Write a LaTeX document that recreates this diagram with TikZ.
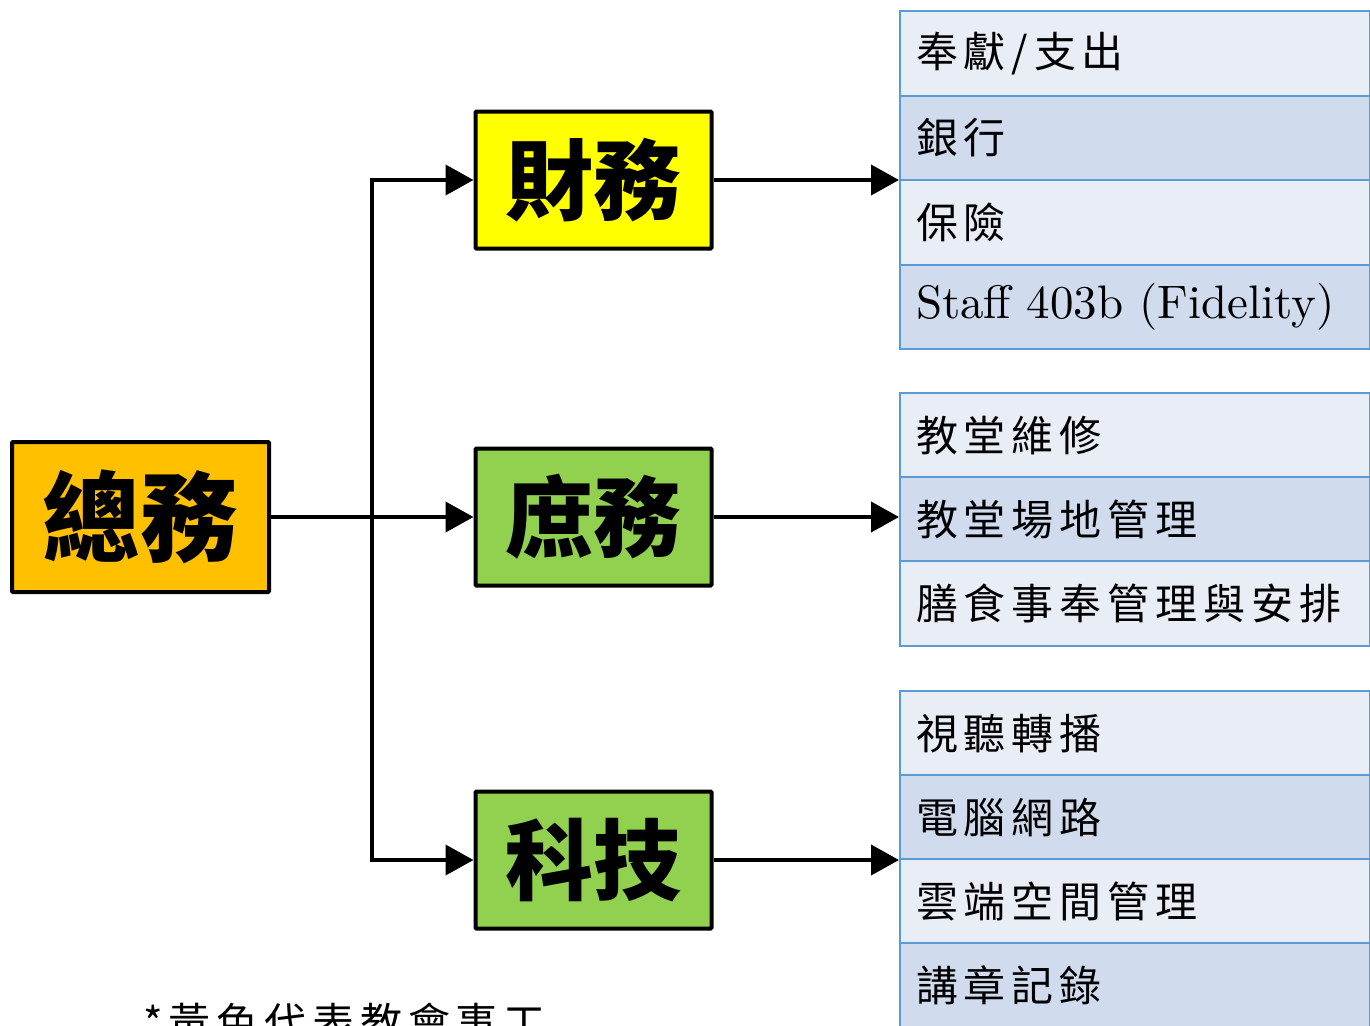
\documentclass[tikz,border=0pt]{standalone}
\usepackage{fontspec}
\usetikzlibrary{arrows.meta}
\newfontfamily\cjk[LetterSpace=14]{Noto Sans CJK TC}
\newfontfamily\cjkb{Noto Sans CJK TC}
\newfontfamily\lmten{lmroman10-regular.otf}
\definecolor{orangeF}{HTML}{FFC000}
\definecolor{yellowF}{HTML}{FFFF00}
\definecolor{greenF}{HTML}{92D050}
\definecolor{rowA}{HTML}{E9EDF6}
\definecolor{rowB}{HTML}{D0DBEE}
\definecolor{rowline}{HTML}{5B9BD5}
\tikzset{
  mainbox/.style={draw=black, line width=4pt, rounded corners=1pt, inner sep=0pt,
    minimum width=236pt, minimum height=137pt, font=\cjkb\bfseries\fontsize{88}{90}\selectfont},
  rowbox/.style={draw=rowline, line width=2pt, anchor=north west, minimum width=470pt,
    minimum height=84.5pt, inner xsep=16pt, inner ysep=0pt, text width=438pt, align=left,
    font=\cjk\fontsize{42}{50}\selectfont},
  conn/.style={draw=black, line width=4pt},
  tip/.style={-{Triangle[length=28pt,width=30pt]}}
}
\begin{document}
\begin{tikzpicture}[x=1pt,y=-1pt]
\useasboundingbox (0,0) rectangle (1370,1025);
\clip (0,0) rectangle (1370,1025);
\fill[white] (0,0) rectangle (1370,1025);
% main boxes
\node[mainbox, fill=orangeF, minimum width=257pt, minimum height=150pt,
  font=\cjkb\bfseries\fontsize{98}{100}\selectfont] (zw) at (140.5,517) {總務};
\node[mainbox, fill=yellowF] (cw) at (593.5,180) {財務};
\node[mainbox, fill=greenF] (sw) at (593.5,517) {庶務};
\node[mainbox, fill=greenF] (kj) at (593.5,860) {科技};
% list 1
\node[rowbox, fill=rowA] (f1) at (899,10) {奉獻/支出};
\node[rowbox, fill=rowB] (f2) at (899,94.5) {銀行};
\node[rowbox, fill=rowA] (f3) at (899,179) {保險};
\node[rowbox, fill=rowB, font=\lmten\fontsize{47}{52}\selectfont] (f4) at (899,263.5) {Staff 403b (Fidelity)};
% list 2
\node[rowbox, fill=rowA] (s1) at (899,392) {教堂維修};
\node[rowbox, fill=rowB] (s2) at (899,476) {教堂場地管理};
\node[rowbox, fill=rowA] (s3) at (899,560) {膳食事奉管理與安排};
% list 3
\node[rowbox, fill=rowA] (k1) at (899,690) {視聽轉播};
\node[rowbox, fill=rowB] (k2) at (899,774) {電腦網路};
\node[rowbox, fill=rowA] (k3) at (899,858) {雲端空間管理};
\node[rowbox, fill=rowB] (k4) at (899,942) {講章記錄};
% connectors
\coordinate (jn) at (372,517);
\coordinate (jt) at (372,180);
\coordinate (jb) at (372,860);
\draw[conn, tip] (jn) -- (jt) -- (cw.west);
\draw[conn, tip] (jn) -- (jb) -- (kj.west);
\draw[conn, tip] (zw.east) -- (sw.west);
\draw[conn, tip] (cw.east) -- (cw.east -| f2.west);
\draw[conn, tip] (sw.east) -- (sw.east -| s2.west);
\draw[conn, tip] (kj.east) -- (kj.east -| k2.west);
% note
\node[anchor=north west, inner sep=0pt, font=\cjk\fontsize{42}{50}\selectfont] (note) at (143,1003) {*黃色代表教會事工};
\end{tikzpicture}
\end{document}
